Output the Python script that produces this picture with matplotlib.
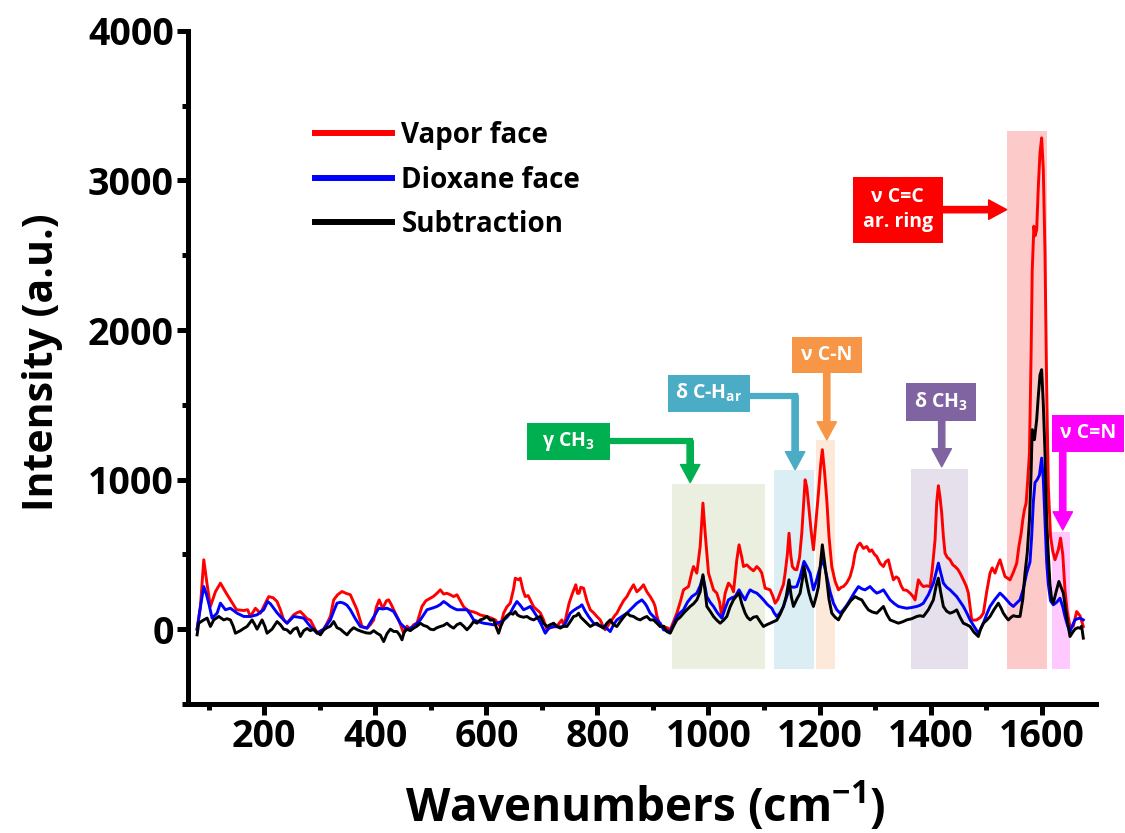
import matplotlib
matplotlib.use('Agg')
import matplotlib.pyplot as plt
from matplotlib.lines import Line2D
from matplotlib.patches import Rectangle, FancyArrowPatch
from matplotlib.ticker import MultipleLocator

WIDTH = 1125
HEIGHT = 833
DPI = 100

# Raman spectra (wavenumber, intensity)
vapor_x = [79, 85, 91, 97, 103, 112, 121, 130, 139, 150, 163, 170, 175, 184, 193, 208, 216, 223, 229, 235,
           241, 253, 259, 265, 271, 277, 283, 289, 295, 307, 313, 319, 325, 332, 340, 347, 355, 361, 367, 376,
           385, 391, 397, 402, 407, 412, 415, 420, 424, 428, 433, 442, 451, 457, 463, 469, 475, 484, 491, 499,
           505, 511, 517, 523, 529, 535, 541, 547, 553, 559, 565, 571, 577, 583, 589, 595, 601, 608, 616, 625,
           631, 637, 643, 649, 652, 658, 661, 666, 670, 675, 679, 685, 691, 697, 703, 709, 715, 721, 727, 733,
           736, 740, 745, 749, 755, 761, 764, 767, 770, 775, 781, 787, 793, 799, 805, 810, 814, 820, 826, 831,
           835, 841, 847, 853, 859, 865, 871, 877, 883, 889, 895, 901, 904, 907, 913, 919, 925, 931, 937, 943,
           949, 955, 964, 970, 973, 979, 985, 990, 994, 1000, 1009, 1015, 1020, 1024, 1030, 1036, 1042, 1045,
           1051, 1055, 1060, 1063, 1069, 1075, 1081, 1087, 1092, 1096, 1102, 1111, 1116, 1120, 1125, 1129,
           1135, 1138, 1142, 1145, 1148, 1151, 1155, 1159, 1164, 1168, 1174, 1177, 1180, 1185, 1189, 1193,
           1198, 1202, 1205, 1209, 1213, 1217, 1222, 1228, 1234, 1239, 1243, 1249, 1255, 1260, 1264, 1269,
           1273, 1279, 1285, 1290, 1294, 1299, 1303, 1309, 1315, 1319, 1324, 1328, 1333, 1338, 1342, 1347,
           1351, 1357, 1363, 1368, 1372, 1378, 1383, 1387, 1393, 1399, 1403, 1408, 1411, 1414, 1417, 1420,
           1423, 1426, 1430, 1435, 1440, 1444, 1449, 1453, 1459, 1464, 1468, 1471, 1474, 1478, 1483, 1490,
           1495, 1501, 1507, 1511, 1516, 1520, 1525, 1530, 1534, 1539, 1543, 1549, 1555, 1559, 1563, 1566,
           1569, 1572, 1575, 1578, 1581, 1583, 1586, 1588, 1591, 1594, 1597, 1600, 1603, 1606, 1609, 1612,
           1616, 1620, 1624, 1630, 1634, 1638, 1642, 1646, 1651, 1657, 1663, 1669, 1675]
vapor_y = [0, 150, 464, 300, 152, 250, 308, 250, 196, 130, 125, 130, 85, 140, 107, 218, 210, 185, 130, 62,
           40, 96, 110, 118, 95, 70, 60, 18, -27, 0, 40, 85, 196, 230, 252, 240, 230, 180, 130, 18,
           7, 30, 62, 150, 196, 150, 152, 190, 196, 170, 130, 62, -27, 20, 0, 30, 40, 152, 190, 207,
           220, 240, 263, 235, 240, 230, 218, 230, 190, 150, 130, 120, 115, 107, 95, 90, 85, 75, 62, 18,
           107, 150, 174, 270, 341, 330, 341, 260, 218, 225, 196, 150, 130, 110, 62, -4, 10, 15, 18, 50,
           62, 18, 110, 174, 240, 297, 240, 240, 280, 274, 190, 130, 110, 85, 62, 20, -4, 30, 62, 90,
           107, 150, 190, 218, 260, 297, 250, 270, 297, 250, 218, 180, 150, 90, 18, 18, 10, -4, 50, 107,
           180, 263, 285, 380, 419, 375, 553, 843, 642, 375, 263, 241, 180, 85, 241, 308, 280, 250,
           464, 564, 480, 419, 430, 408, 390, 419, 400, 375, 274, 263, 220, 174, 200, 241,
           300, 375, 500, 642, 500, 419, 400, 397, 480, 642, 999, 950, 843, 650, 531, 700,
           910, 1100, 1200, 1050, 865, 620, 419, 320, 263, 280, 285, 310, 352, 420, 508, 560,
           575, 540, 553, 520, 530, 500, 486, 440, 419, 450, 464, 400, 330, 350, 340, 290,
           263, 260, 241, 220, 196, 330, 300, 285, 290, 285, 400, 598, 850, 959, 880, 776,
           620, 508, 480, 464, 430, 419, 400, 375, 330, 290, 241, 150, 62, 60, 62, 80,
           107, 250, 375, 410, 375, 420, 464, 400, 352, 340, 330, 380, 440, 553, 640, 731,
           800, 843, 1000, 1177, 1846, 2400, 2694, 2630, 2670, 2960, 3185, 3285, 3070, 2515, 1623, 954,
           620, 520, 464, 531, 609, 500, 263, 120, 18, 20, 118, 90, 18]

dioxane_x = [79, 85, 91, 96, 100, 106, 115, 121, 130, 139, 151, 163, 175, 187, 199, 206, 211, 217, 223, 229,
             241, 253, 262, 271, 283, 295, 307, 319, 325, 331, 337, 343, 349, 355, 364, 373, 385, 394, 400, 406,
             413, 421, 427, 433, 445, 457, 469, 481, 493, 502, 511, 517, 523, 529, 535, 541, 547, 556, 565, 571,
             577, 586, 595, 604, 613, 622, 628, 637, 643, 649, 655, 661, 667, 673, 679, 685, 691, 699, 706, 713,
             721, 730, 739, 745, 751, 757, 763, 768, 772, 778, 784, 793, 802, 811, 817, 823, 829, 835, 844, 853,
             862, 871, 880, 886, 889, 895, 901, 913, 919, 925, 931, 937, 943, 949, 955, 962, 970, 979, 985, 990,
             994, 997, 1003, 1009, 1016, 1024, 1030, 1036, 1042, 1048, 1055, 1060, 1066, 1070, 1075, 1081, 1087,
             1093, 1099, 1106, 1114, 1118, 1123, 1129, 1135, 1141, 1147, 1153, 1159, 1165, 1172, 1177, 1183,
             1189, 1194, 1198, 1205, 1209, 1213, 1219, 1225, 1231, 1237, 1243, 1249, 1255, 1262, 1270, 1276,
             1282, 1287, 1291, 1297, 1303, 1309, 1315, 1321, 1327, 1335, 1342, 1350, 1357, 1366, 1375, 1381,
             1387, 1396, 1405, 1410, 1414, 1418, 1423, 1429, 1435, 1441, 1447, 1453, 1459, 1465, 1471, 1478,
             1486, 1490, 1495, 1501, 1507, 1516, 1525, 1531, 1537, 1543, 1549, 1555, 1561, 1567, 1573, 1579,
             1582, 1585, 1588, 1592, 1596, 1600, 1603, 1606, 1609, 1612, 1616, 1621, 1627, 1633, 1638, 1642,
             1647, 1651, 1656, 1660, 1665, 1669, 1675]
dioxane_y = [0, 150, 285, 230, 174, 74, 107, 174, 130, 140, 107, 85, 85, 96, 130, 185, 170, 140, 110, 85,
             40, 85, 80, 74, 18, -27, 0, 62, 120, 174, 180, 174, 160, 130, 70, 18, 7, 62, 100, 140,
             135, 140, 130, 118, 40, -4, 18, 62, 130, 140, 152, 165, 185, 170, 152, 140, 130, 130, 130, 100,
             62, 50, 40, 35, 29, 45, 51, 80, 107, 150, 185, 160, 130, 140, 152, 120, 85, 30, -27, 10,
             18, 15, 18, 60, 107, 125, 140, 150, 163, 120, 85, 40, 25, 18, 5, -16, 30, 62, 85, 107,
             140, 174, 196, 170, 152, 107, 85, 40, -4, -10, -16, 30, 85, 110, 129, 180, 218, 241, 290, 352,
             280, 218, 180, 152, 110, 74, 140, 196, 210, 218, 263, 230, 196, 230, 263, 250, 241,
             220, 196, 165, 140, 110, 85, 110, 152, 220, 285, 280, 285, 350, 453, 420, 375,
             263, 320, 375, 464, 420, 352, 250, 174, 130, 107, 130, 160, 196, 240, 285, 270,
             263, 275, 285, 260, 241, 250, 263, 230, 196, 170, 152, 145, 140, 145, 152, 160,
             174, 230, 308, 380, 442, 380, 308, 280, 263, 240, 218, 185, 152, 110, 62, 20,
             -27, 0, 40, 100, 152, 200, 241, 220, 196, 170, 152, 175, 196, 270, 375, 450,
             620, 850, 980, 1000, 1030, 1144, 1000, 731, 450, 300, 190, 163, 180, 207, 150, 85,
             20, -16, 30, 62, 70, 74, 62]

subtraction_x = [79, 82, 86, 91, 97, 103, 109, 118, 127, 133, 139, 144, 148, 157, 163, 169, 178, 183, 187, 196,
                 201, 205, 214, 223, 229, 235, 241, 247, 253, 259, 265, 271, 277, 283, 289, 295, 301, 307, 313, 319,
                 325, 331, 337, 343, 349, 355, 361, 368, 376, 384, 391, 397, 403, 409, 415, 421, 427, 433, 439, 444,
                 448, 452, 457, 463, 469, 475, 481, 487, 493, 499, 505, 511, 517, 523, 529, 535, 541, 547, 553, 559,
                 565, 571, 577, 583, 589, 595, 601, 607, 613, 617, 622, 626, 631, 637, 643, 648, 652, 656, 661, 667,
                 673, 679, 685, 691, 697, 703, 709, 715, 721, 727, 733, 739, 745, 751, 757, 762, 766, 770, 775, 781,
                 787, 793, 799, 805, 811, 817, 823, 829, 835, 841, 847, 853, 859, 865, 871, 877, 883, 889, 895, 901,
                 907, 913, 919, 925, 931, 937, 943, 949, 955, 961, 967, 973, 979, 985, 990, 994, 997, 1003, 1009,
                 1015, 1021, 1027, 1033, 1039, 1045, 1050, 1055, 1060, 1066, 1070, 1075, 1081, 1087, 1093, 1099,
                 1105, 1111, 1117, 1123, 1129, 1135, 1140, 1145, 1149, 1153, 1159, 1165, 1169, 1172, 1176, 1181,
                 1185, 1189, 1194, 1198, 1202, 1205, 1209, 1213, 1217, 1222, 1228, 1234, 1241, 1249, 1256, 1264,
                 1270, 1276, 1282, 1288, 1295, 1303, 1309, 1315, 1321, 1327, 1335, 1342, 1350, 1357, 1366, 1375,
                 1381, 1387, 1396, 1405, 1410, 1414, 1418, 1423, 1429, 1435, 1441, 1447, 1453, 1459, 1465, 1471,
                 1478, 1486, 1490, 1495, 1501, 1507, 1514, 1522, 1527, 1531, 1536, 1540, 1545, 1549, 1555, 1561,
                 1566, 1570, 1574, 1578, 1581, 1583, 1587, 1591, 1594, 1597, 1600, 1603, 1606, 1609, 1612, 1615,
                 1618, 1621, 1626, 1631, 1635, 1639, 1645, 1651, 1656, 1660, 1665, 1669, 1672, 1675]
subtraction_y = [-38, 40, 50, 62, 74, 18, 62, 85, 62, 70, 62, 20, -27, -10, 5, 18, 62, 30, 0, 62,
                 20, -27, 0, 51, 30, 0, -5, -27, 0, 10, -49, -10, 5, -10, 0, -20, -38, -5, 10, 20,
                 51, 10, 0, -20, -38, -10, 10, -5, -16, -25, -27, -10, -27, -40, -83, -30, 0, -15, -16, -40,
                 -71, -20, 0, -10, 7, 20, 40, 25, 18, 0, -4, 10, 18, 25, 40, 20, 7, 30, 40, 20,
                 -4, 20, 51, 40, 62, 70, 85, 60, 62, 20, -27, 20, 62, 90, 107, 100, 118, 95, 85, 80,
                 85, 70, 62, 75, 85, 40, 18, 30, 40, 20, 7, 20, 18, 50, 85, 90, 107, 80, 62, 40,
                 18, 30, 40, 20, 7, 40, 62, 30, 18, 50, 80, 107, 90, 85, 70, 62, 75, 85, 62, 62,
                 40, 18, 20, -16, -27, 20, 62, 80, 107, 130, 152, 170, 196, 250, 364, 250, 152, 120, 85,
                 60, 40, 60, 85, 150, 196, 220, 241, 170, 107, 80, 62, 80, 85, 50, 18,
                 30, 40, 50, 60, 100, 152, 220, 330, 220, 152, 200, 241, 330, 419, 330, 241,
                 190, 152, 220, 285, 450, 564, 450, 330, 200, 107, 80, 62, 110, 152, 190, 218,
                 205, 196, 160, 129, 115, 107, 130, 152, 100, 62, 50, 40, 50, 62, 70, 85,
                 90, 85, 130, 196, 290, 341, 250, 152, 120, 107, 115, 129, 80, 40, 30, 18,
                 -20, -49, 0, 40, 60, 85, 130, 174, 140, 107, 80, 62, 80, 90, 85, 85,
                 200, 375, 508, 731, 1050, 1334, 1267, 1400, 1560, 1700, 1735, 1500, 1177, 731, 500, 300,
                 200, 174, 250, 319, 280, 241, 85, -49, -20, 0, 10, 7, 20, -60]

series_names = ['Vapor face', 'Dioxane face', 'Subtraction']
series_colors = ['#FF0000', '#0000FF', '#000000']

x_ticks = [200, 400, 600, 800, 1000, 1200, 1400, 1600]
y_ticks = [0, 1000, 2000, 3000, 4000]

# highlighted bands: colour, start, end, top
bands = [
    ('#EBEFDF', 935, 1102, 972),
    ('#DBEEF4', 1118, 1190, 1061),
    ('#FDE9DA', 1194, 1228, 1266),
    ('#E5E0EC', 1364, 1467, 1070),
    ('#FDCACA', 1537, 1609, 3329),
    ('#FFC8FF', 1619, 1651, 653),
]
band_bottom = -265

# assignment labels: text, colour, box (x0, x1, y0, y1), arrow path
labels = [
    ('\u03b3 CH$_3$', '#00B050', (674, 822, 1131, 1378), [(822, 1259), (967, 1259), (967, 980)]),
    ('\u03b4 C-H$_{ar}$', '#4BACC6', (927, 1075, 1454, 1701), [(1075, 1561), (1156, 1561), (1156, 1066)]),
    ('\u03bd C-N', '#F79646', (1150, 1276, 1715, 1956), [(1213, 1715), (1213, 1266)]),
    ('\u03b4 CH$_3$', '#8064A2', (1355, 1481, 1394, 1648), [(1420, 1394), (1420, 1086)]),
    ('\u03bd C=C\nar. ring', '#FF0000', (1260, 1422, 2584, 3025), [(1422, 2805), (1537, 2805)]),
    ('\u03bd C=N', '#FF00FF', (1618, 1749, 1186, 1434), [(1638, 1186), (1638, 664)]),
]

plt.rcParams['font.family'] = ['Open Sans', 'DejaVu Sans']
plt.rcParams['font.weight'] = 'bold'
plt.rcParams['mathtext.default'] = 'regular'

fig = plt.figure(figsize=(WIDTH / DPI, HEIGHT / DPI), dpi=DPI)
ax = fig.add_axes([0.1668, 0.1549, 0.807, 0.808])

for color, x0, x1, top in bands:
    ax.add_patch(Rectangle((x0, band_bottom), x1 - x0, top - band_bottom,
                           facecolor=color, edgecolor='none', zorder=0))

for xs, ys, color in zip([vapor_x, dioxane_x, subtraction_x],
                         [vapor_y, dioxane_y, subtraction_y], series_colors):
    ax.plot(xs, ys, color=color, lw=2.1, zorder=2)

for text, color, (x0, x1, y0, y1), path in labels:
    ax.add_patch(Rectangle((x0, y0), x1 - x0, y1 - y0, facecolor=color,
                           edgecolor='none', zorder=3, clip_on=False))
    ax.text((x0 + x1) / 2, (y0 + y1) / 2, text, color='white', fontsize=14,
            fontweight='bold', ha='center', va='center', zorder=4, linespacing=1.3)
    if len(path) == 3:
        ax.plot([path[0][0], path[1][0]], [path[0][1], path[1][1]], color=color,
                lw=4.5, solid_capstyle='projecting', zorder=3, clip_on=False)
    arrow = FancyArrowPatch(path[-2], path[-1],
                            arrowstyle='simple,head_length=13,head_width=14,tail_width=4.5',
                            mutation_scale=1, color=color, shrinkA=0, shrinkB=0,
                            zorder=3, clip_on=False)
    ax.add_patch(arrow)

ax.set_xlim(62, 1697)
ax.set_ylim(-500, 4000)
ax.set_xticks(x_ticks)
ax.set_yticks(y_ticks)
ax.xaxis.set_minor_locator(MultipleLocator(100))
ax.yaxis.set_minor_locator(MultipleLocator(500))

for side in ['top', 'right']:
    ax.spines[side].set_visible(False)
for side in ['left', 'bottom']:
    ax.spines[side].set_linewidth(3.6)

ax.tick_params(which='major', direction='out', length=8, width=3.6,
               labelsize=27, pad=2)
ax.tick_params(which='minor', direction='out', length=4, width=3.6)
for lab in ax.get_xticklabels() + ax.get_yticklabels():
    lab.set_fontweight('bold')

ax.set_xlabel('Wavenumbers (cm$^{\u22121}$)', fontsize=33, fontweight='bold')
ax.set_ylabel('Intensity (a.u.)', fontsize=29.5, fontweight='bold')
ax.xaxis.set_label_coords(0.504, -0.113)
ax.yaxis.set_label_coords(-0.137, 0.508)

handles = [Line2D([], [], color=c, lw=4.3) for c in series_colors]
ax.legend(handles, series_names, loc='upper left', bbox_to_anchor=(0.14, 0.866),
          frameon=False, fontsize=20, handlelength=2.77, handletextpad=0.35,
          labelspacing=0.56, borderpad=0, borderaxespad=0)

fig.savefig('out.png', dpi=DPI)
